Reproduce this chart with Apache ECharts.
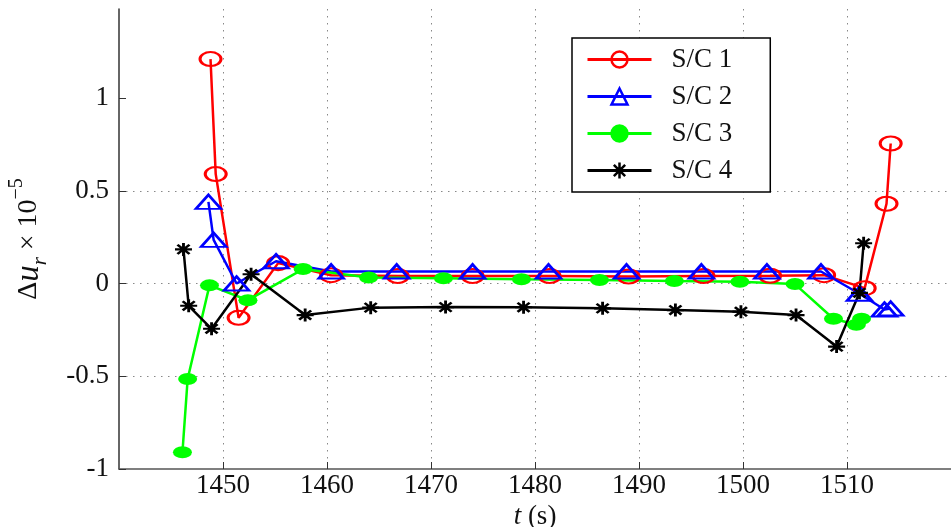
<!DOCTYPE html>
<html><head><meta charset="utf-8">
<script src="https://cdn.jsdelivr.net/npm/echarts@6/dist/echarts.min.js"></script>
<style>html,body{margin:0;padding:0;background:#fff}#c{width:951px;height:527px}</style>
</head><body><div id="c"></div>
<script>
const seriesNames = ['S/C 1', 'S/C 2', 'S/C 3', 'S/C 4'];
const yTickValues = [-1, -0.5, 0, 0.5, 1];

const sc1T = [1448.8, 1449.3, 1451.5, 1455.3, 1460.4, 1466.8, 1474.0, 1481.4, 1489.0, 1496.2, 1502.6, 1507.8, 1511.7, 1513.8, 1514.2];
const sc1V = [1.21, 0.59, -0.185, 0.11, 0.045, 0.04, 0.04, 0.04, 0.038, 0.04, 0.042, 0.045, -0.025, 0.43, 0.755];

const sc2T = [1448.6, 1449.1, 1451.3, 1455.1, 1460.4, 1466.7, 1474.0, 1481.3, 1488.8, 1496.0, 1502.3, 1507.5, 1511.2, 1513.6, 1514.2];
const sc2V = [0.44, 0.235, 0.0, 0.12, 0.065, 0.065, 0.065, 0.065, 0.065, 0.065, 0.065, 0.065, -0.055, -0.14, -0.135];

const sc3T = [1446.1, 1446.6, 1448.7, 1452.4, 1457.7, 1464.0, 1471.2, 1478.7, 1486.2, 1493.4, 1499.7, 1505.0, 1508.7, 1510.9, 1511.4];
const sc3V = [-0.91, -0.515, -0.01, -0.09, 0.078, 0.033, 0.028, 0.023, 0.019, 0.014, 0.01, -0.003, -0.19, -0.222, -0.19];

const sc4T = [1446.2, 1446.7, 1448.9, 1452.7, 1457.9, 1464.2, 1471.4, 1478.9, 1486.5, 1493.5, 1499.8, 1505.1, 1509.0, 1511.2, 1511.6];
const sc4V = [0.184, -0.12, -0.244, 0.05, -0.17, -0.13, -0.127, -0.128, -0.134, -0.143, -0.152, -0.17, -0.34, -0.05, 0.217];

const FONT = 'Liberation Serif';
const pairs = (t, v) => t.map((x, i) => [x, v[i]]);
const asterisk = 'path://M0,-10L0,10M-10,0L10,0M-7.07,-7.07L7.07,7.07M-7.07,7.07L7.07,-7.07';
const gridLine = { color: '#888', type: [1.5, 5.5], width: 1 };

const chart = echarts.init(document.getElementById('c'), null, { renderer: 'canvas' });
chart.setOption({
  animation: false,
  backgroundColor: '#fff',
  textStyle: { fontFamily: FONT },
  grid: { left: 119, right: 0, top: 9, bottom: 58, outerBoundsMode: 'none' },
  xAxis: {
    type: 'value', min: 1440, max: 1520, interval: 10,
    axisLine: { onZero: false, lineStyle: { color: '#555', width: 1.5 } },
    axisTick: { inside: true, length: 7, lineStyle: { color: '#333', width: 1 } },
    axisLabel: { showMinLabel: false, showMaxLabel: false, fontSize: 27, color: '#111', margin: 3, fontFamily: FONT,
      formatter: v => String(v) },
    splitLine: { show: true, showMinLine: false, showMaxLine: false, lineStyle: gridLine },
    name: '{i|t} (s)', nameLocation: 'middle', nameGap: 26,
    nameTextStyle: { fontSize: 27, color: '#111', fontFamily: FONT,
      rich: { i: { fontStyle: 'italic', fontSize: 27, fontFamily: FONT, color: '#111' } } }
  },
  yAxis: {
    type: 'value', min: -1, max: 1.48, interval: 0.5,
    axisLine: { show: true, onZero: false, lineStyle: { color: '#333', width: 1.5 } },
    axisTick: { show: true, inside: true, length: 7, customValues: yTickValues, lineStyle: { color: '#333', width: 1 } },
    axisLabel: { customValues: yTickValues, fontSize: 27, color: '#111', margin: 10, fontFamily: FONT },
    splitLine: { show: true, showMinLine: false, showMaxLine: false, lineStyle: gridLine },
    name: '{d|Δ}{u|u}{r|r}{d| × 10}{s|−5}', nameLocation: 'middle', nameGap: 68, nameRotate: 90,
    nameTextStyle: { color: '#111', fontFamily: FONT,
      rich: {
        d: { fontSize: 28, fontFamily: FONT, lineHeight: 44, color: '#111' },
        u: { fontSize: 33, fontStyle: 'italic', fontFamily: FONT, lineHeight: 44, color: '#111' },
        r: { fontSize: 21, fontStyle: 'italic', fontFamily: FONT, lineHeight: 30, verticalAlign: 'bottom', color: '#111' },
        s: { fontSize: 20, fontFamily: FONT, lineHeight: 20, verticalAlign: 'top', color: '#111' }
      } }
  },
  legend: {
    orient: 'vertical', left: 572, top: 38,
    itemWidth: 64, itemHeight: 20, itemGap: 10,
    padding: [8, 38, 8, 14],
    borderColor: '#000', borderWidth: 1.5, backgroundColor: '#fff',
    lineStyle: { width: 3 },
    itemStyle: { borderWidth: 2.5 },
    textStyle: { fontSize: 27, fontFamily: FONT, color: '#111', padding: [0, 0, 0, 15] },
    data: seriesNames
  },
  series: [
    { name: seriesNames[0], type: 'line', data: pairs(sc1T, sc1V), symbol: 'circle', symbolSize: [21, 14], showAllSymbol: true,
      lineStyle: { color: '#ff0000', width: 2.5 }, itemStyle: { color: 'transparent', borderColor: '#ff0000', borderWidth: 2.5 } },
    { name: seriesNames[1], type: 'line', data: pairs(sc2T, sc2V), symbol: 'triangle', symbolSize: [25, 14], showAllSymbol: true,
      lineStyle: { color: '#0000ff', width: 2.5 }, itemStyle: { color: 'transparent', borderColor: '#0000ff', borderWidth: 2.5 } },
    { name: seriesNames[2], type: 'line', data: pairs(sc3T, sc3V), symbol: 'circle', symbolSize: [19, 12], showAllSymbol: true,
      lineStyle: { color: '#00ff00', width: 2.5 }, itemStyle: { color: '#00ff00', borderColor: '#00ff00', borderWidth: 0 } },
    { name: seriesNames[3], type: 'line', data: pairs(sc4T, sc4V), symbol: asterisk, symbolSize: [17, 13], showAllSymbol: true,
      lineStyle: { color: '#000000', width: 2.5 }, itemStyle: { color: '#000000', borderColor: '#000000', borderWidth: 2.5 } }
  ]
});
</script>
</body></html>
